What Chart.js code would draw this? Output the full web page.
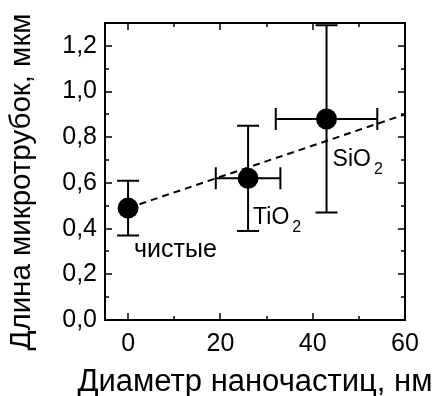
<!DOCTYPE html>
<html>
<head>
<meta charset="utf-8">
<script src="https://cdn.jsdelivr.net/npm/chart.js@4/dist/chart.umd.min.js"></script>
<style>
  html, body { margin: 0; padding: 0; background: #fff; }
  #wrap { width: 441px; height: 396px; }
</style>
</head>
<body>
<div id="wrap"><canvas id="chart" width="441" height="396"></canvas></div>
<script>
// данные
const labelMain = ['чистые', 'TiO', 'SiO'];
const labelSub = ['', '2', '2'];
const diameter = [0, 26, 43];
const diameterErr = [0, 7, 11];
const lengthVals = [0.49, 0.62, 0.88];
const lengthErr = [0.12, 0.23, 0.41];
const fitX = [0, 60];
const fitY = [0.49, 0.90];
const xTicks = [0, 20, 40, 60];
const xMinorTicks = [10, 30, 50];
const yTicks = [0, 0.2, 0.4, 0.6, 0.8, 1.0, 1.2];
const yMinorTicks = [0.1, 0.3, 0.5, 0.7, 0.9, 1.1];

const FONT = '"Liberation Sans", Arial, sans-serif';

// рамка, засечки внутрь, усы погрешностей, подписи
const decorPlugin = {
  id: 'decor',
  beforeDatasetsDraw(chart) {
    const ctx = chart.ctx;
    const xs = chart.scales.x, ys = chart.scales.y;
    ctx.save();
    ctx.strokeStyle = '#000';
    ctx.lineWidth = 2;
    for (let i = 0; i < diameter.length; i++) {
      let px = xs.getPixelForValue(diameter[i]);
      let py = ys.getPixelForValue(lengthVals[i]);
      let cap = 11;
      if (lengthErr[i] > 0) {
        let t = ys.getPixelForValue(lengthVals[i] + lengthErr[i]);
        let b = ys.getPixelForValue(lengthVals[i] - lengthErr[i]);
        ctx.beginPath();
        ctx.moveTo(px, t); ctx.lineTo(px, b);
        ctx.moveTo(px - cap, t); ctx.lineTo(px + cap, t);
        ctx.moveTo(px - cap, b); ctx.lineTo(px + cap, b);
        ctx.stroke();
      }
      if (diameterErr[i] > 0) {
        let l = xs.getPixelForValue(diameter[i] - diameterErr[i]);
        let r = xs.getPixelForValue(diameter[i] + diameterErr[i]);
        ctx.beginPath();
        ctx.moveTo(l, py); ctx.lineTo(r, py);
        ctx.moveTo(l, py - cap); ctx.lineTo(l, py + cap);
        ctx.moveTo(r, py - cap); ctx.lineTo(r, py + cap);
        ctx.stroke();
      }
    }
    ctx.restore();
  },
  afterDraw(chart) {
    const ctx = chart.ctx;
    const a = chart.chartArea;
    const xs = chart.scales.x, ys = chart.scales.y;
    ctx.save();
    ctx.strokeStyle = '#000';
    ctx.lineWidth = 2;
    ctx.strokeRect(a.left, a.top, a.right - a.left, a.bottom - a.top);

    ctx.lineWidth = 1.5;
    ctx.beginPath();
    xTicks.concat(xMinorTicks).forEach(v => {
      let len = xTicks.includes(v) ? 7 : 4;
      let px = Math.round(xs.getPixelForValue(v));
      ctx.moveTo(px, a.bottom); ctx.lineTo(px, a.bottom - len);
      ctx.moveTo(px, a.top); ctx.lineTo(px, a.top + len);
    });
    yTicks.concat(yMinorTicks).forEach(v => {
      let len = yTicks.includes(v) ? 7 : 4;
      let py = Math.round(ys.getPixelForValue(v));
      ctx.moveTo(a.left, py); ctx.lineTo(a.left + len, py);
      ctx.moveTo(a.right, py); ctx.lineTo(a.right - len, py);
    });
    ctx.stroke();

    // подписи точек
    const offs = [[6, 48.5], [5, 46], [6, 47]];
    const sizes = [25, 23, 23];
    ctx.fillStyle = '#000';
    ctx.textBaseline = 'alphabetic';
    ctx.textAlign = 'left';
    for (let i = 0; i < labelMain.length; i++) {
      let px = xs.getPixelForValue(diameter[i]) + offs[i][0];
      let py = ys.getPixelForValue(lengthVals[i]) + offs[i][1];
      ctx.font = sizes[i] + 'px ' + FONT;
      ctx.fillText(labelMain[i], px, py);
      if (labelSub[i]) {
        let w = ctx.measureText(labelMain[i]).width;
        ctx.font = '16px ' + FONT;
        ctx.fillText(labelSub[i], px + w + 3, py + 8);
      }
    }

    // названия осей
    ctx.font = '31px ' + FONT;
    ctx.textAlign = 'center';
    ctx.fillText('Диаметр наночастиц, нм', 255, 391);
    ctx.font = '29.5px ' + FONT;
    ctx.translate(30, 182);
    ctx.rotate(-Math.PI / 2);
    ctx.fillText('Длина микротрубок, мкм', 0, 0);
    ctx.restore();
  }
};

const pts = diameter.map((x, i) => ({ x: x, y: lengthVals[i] }));
const fit = fitX.map((x, i) => ({ x: x, y: fitY[i] }));

new Chart(document.getElementById('chart'), {
  type: 'scatter',
  data: {
    datasets: [
      {
        data: pts,
        pointRadius: 10.5,
        pointHoverRadius: 10.5,
        backgroundColor: '#000',
        borderColor: '#000',
        borderWidth: 0,
        order: 0
      },
      {
        type: 'line',
        data: fit,
        borderColor: '#000',
        borderWidth: 2,
        borderDash: [7, 5],
        pointRadius: 0,
        fill: false,
        order: 1
      }
    ]
  },
  options: {
    responsive: false,
    animation: false,
    events: [],
    layout: { padding: { top: 23, right: 36, left: 0, bottom: 0 } },
    plugins: { legend: { display: false }, tooltip: { enabled: false } },
    scales: {
      x: {
        type: 'linear',
        min: -5,
        max: 60,
        afterFit(s) { s.height = 76; },
        afterBuildTicks(s) { s.ticks = xTicks.map(v => ({ value: v })); },
        grid: { display: false, drawTicks: false },
        border: { display: false },
        ticks: {
          padding: 9,
          color: '#000',
          font: { family: FONT, size: 25 },
          maxRotation: 0
        }
      },
      y: {
        type: 'linear',
        min: 0,
        max: 1.3,
        afterFit(s) { s.width = 105; },
        afterBuildTicks(s) { s.ticks = yTicks.map(v => ({ value: v })); },
        grid: { display: false, drawTicks: false },
        border: { display: false },
        ticks: {
          padding: 8,
          color: '#000',
          font: { family: FONT, size: 25 },
          callback: v => v.toFixed(1).replace('.', ',')
        }
      }
    }
  },
  plugins: [decorPlugin]
});
</script>
</body>
</html>
